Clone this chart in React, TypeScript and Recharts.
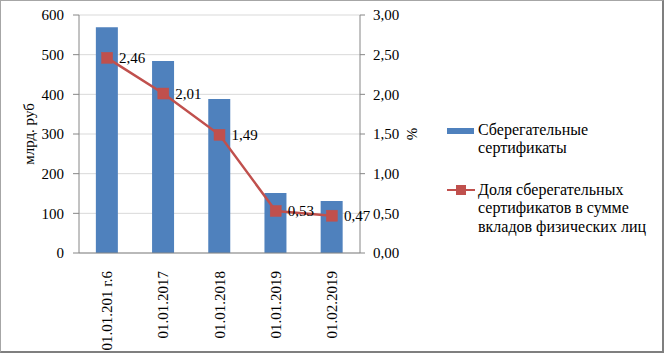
import { ComposedChart, Bar, Line, XAxis, YAxis, CartesianGrid, LabelList } from "recharts";

const dates = ["01.01.201 г.6", "01.01.2017", "01.01.2018", "01.01.2019", "01.02.2019"];
const certificates = [569, 484, 388, 151, 131];
const shares = [2.46, 2.01, 1.49, 0.53, 0.47];
const leftTicks = [0, 100, 200, 300, 400, 500, 600];
const rightTicks = [0, 0.5, 1, 1.5, 2, 2.5, 3];

const data = dates.map((date, i) => ({ date, certificates: certificates[i], share: shares[i] }));

const FONT = "Liberation Serif, Times New Roman, DejaVu Serif, serif";
const BLUE = "#4F81BD";
const RED = "#C0504D";

const fmt2 = (v: number) => v.toFixed(2).replace(".", ",");

const XTick = (props: any) => {
  const { x, y, payload } = props;
  return (
    <text
      x={0}
      y={0}
      transform={`translate(${x + 5},${y + 10}) rotate(-90)`}
      textAnchor="end"
      style={{ fontFamily: FONT, fontSize: 15 }}
      fill="#000"
    >
      {payload.value}
    </text>
  );
};

const SquareDot = (props: any) => {
  const { cx, cy } = props;
  if (cx == null || cy == null) return null;
  return <rect x={cx - 5.5} y={cy - 5.5} width={11} height={11} fill={RED} stroke={RED} strokeWidth={0.5} />;
};

export default function App() {
  return (
    <div
      style={{
        position: "absolute",
        left: 0,
        top: 0,
        width: 664,
        height: 353,
        boxSizing: "border-box",
        border: "1px solid #a6a6a6",
        borderRight: "2px solid #7f7f7f",
        borderBottom: "2px solid #7f7f7f",
        background: "#fff",
        fontFamily: FONT,
      }}
    >
      <div style={{ position: "absolute", left: -1, top: -1 }}>
        <ComposedChart
          width={664}
          height={353}
          data={data}
          margin={{ top: 15, right: 244, bottom: 0, left: 0 }}
          barCategoryGap="30%"
          style={{ fontFamily: FONT }}
        >
          <CartesianGrid vertical={false} stroke="#d9d9d9" yAxisId="left" />
          <XAxis
            dataKey="date"
            height={100}
            tick={<XTick />}
            interval={0}
            stroke="#868686"
            tickLine={false}
          />
          <YAxis
            yAxisId="left"
            width={79}
            domain={[0, 600]}
            ticks={leftTicks}
            tickSize={6}
            tickMargin={9}
            stroke="#868686"
            tick={{ fill: "#000", fontFamily: FONT, fontSize: 15 }}
            label={{ value: "млрд. руб", angle: -90, position: "center", dx: -11, fill: "#000", fontFamily: FONT, fontSize: 15 }}
          />
          <YAxis
            yAxisId="right"
            orientation="right"
            width={60}
            domain={[0, 3]}
            ticks={rightTicks}
            tickFormatter={fmt2}
            tickSize={5}
            tickMargin={8}
            stroke="#868686"
            tick={{ fill: "#000", fontFamily: FONT, fontSize: 15, textAnchor: "start" }}
            label={{ value: "%", angle: -90, position: "center", dx: 22, fill: "#000", fontFamily: FONT, fontSize: 15 }}
          />
          <Bar yAxisId="left" dataKey="certificates" fill={BLUE} isAnimationActive={false} />
          <Line
            yAxisId="right"
            dataKey="share"
            stroke={RED}
            strokeWidth={2.5}
            dot={<SquareDot />}
            activeDot={false}
            isAnimationActive={false}
          >
            <LabelList
              dataKey="share"
              position="right"
              offset={12}
              formatter={(v: any) => fmt2(Number(v))}
              fill="#000"
              fontFamily={FONT}
              fontSize={15}
            />
          </Line>
        </ComposedChart>
      </div>
      <div
        style={{
          position: "absolute",
          left: 446,
          top: 119.5,
          width: 215,
          fontSize: 16,
          lineHeight: "18.5px",
          color: "#000",
        }}
      >
        <div style={{ display: "flex", alignItems: "flex-start" }}>
          <div style={{ width: 27, height: 6, background: BLUE, marginTop: 7, marginRight: 4, flexShrink: 0 }} />
          <div>
            Сберегательные
            <br />
            сертификаты
          </div>
        </div>
        <div style={{ display: "flex", alignItems: "flex-start", marginTop: 23 }}>
          <div style={{ position: "relative", width: 28, height: 18, marginRight: 3, flexShrink: 0 }}>
            <div style={{ position: "absolute", left: 0, top: 8, width: 28, height: 2.5, background: RED }} />
            <div style={{ position: "absolute", left: 9, top: 4, width: 10, height: 10, background: RED }} />
          </div>
          <div>
            Доля сберегательных
            <br />
            сертификатов в сумме
            <br />
            вкладов физических лиц
          </div>
        </div>
      </div>
    </div>
  );
}
